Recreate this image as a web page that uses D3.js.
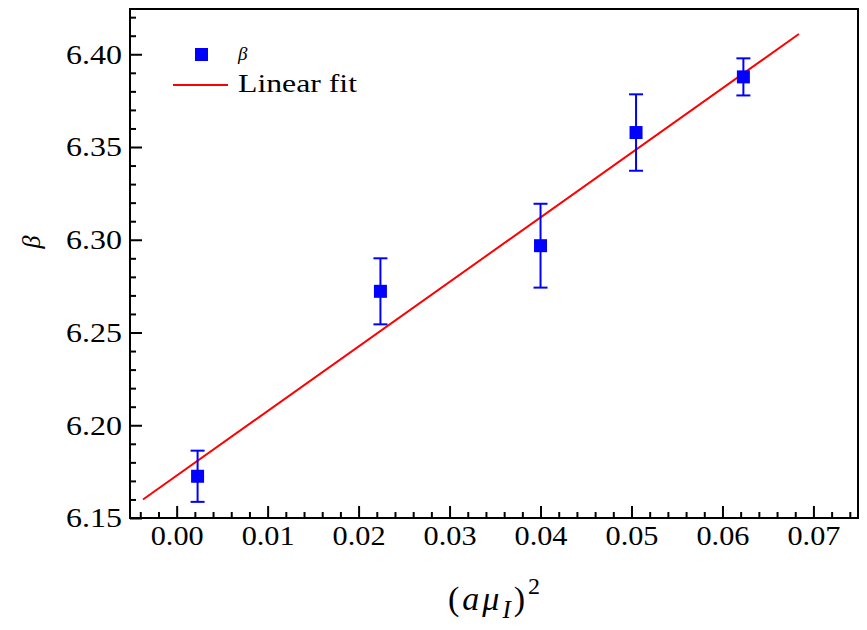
<!DOCTYPE html>
<html>
<head>
<meta charset="utf-8">
<script src="https://cdn.jsdelivr.net/npm/d3@7"></script>
<style>
  html, body { margin: 0; padding: 0; background: #fff; }
  svg { display: block; }
  text { fill: #000; }
</style>
</head>
<body>
<div id="chart"></div>
<script>
// ---- data ----
const pointX   = [0.0023, 0.0224, 0.0400, 0.0505, 0.0623];
const pointY   = [6.1725, 6.2722, 6.2968, 6.3578, 6.3878];
const pointErr = [0.0138, 0.0178, 0.0226, 0.0206, 0.0100];
const fitX = [-0.0037, 0.0684];
const fitY = [6.1600, 6.4109];
const xTicks = [0.00, 0.01, 0.02, 0.03, 0.04, 0.05, 0.06, 0.07];
const yTicks = [6.15, 6.20, 6.25, 6.30, 6.35, 6.40];
const legendLabels = ["β", "Linear fit"];

const W = 867, H = 630;
const L = 130, R = 858, T = 9, B = 518;
const SERIF = "Liberation Serif";

const svg = d3.select("#chart").append("svg").attr("width", W).attr("height", H)
  .style("font-family", SERIF);

const x = d3.scaleLinear().domain([-0.00513, 0.0749]).range([L, R]);
const y = d3.scaleLinear().domain([6.15, 6.4244]).range([B, T]);

// minor ticks
const xMinor = d3.range(-0.004, 0.0749, 0.002).filter(v => Math.abs(Math.round(v * 100) - v * 100) > 1e-6);
const yMinor = d3.range(6.15, 6.425, 0.01).filter(v => Math.abs(Math.round(v * 20) - v * 20) > 1e-6);

const gx = svg.append("g").attr("transform", `translate(0,${B})`);
gx.call(d3.axisBottom(x).tickValues(xMinor).tickSizeInner(-6).tickSizeOuter(0).tickFormat(""));
const gx2 = svg.append("g").attr("transform", `translate(0,${B})`);
gx2.call(d3.axisBottom(x).tickValues(xTicks).tickSizeInner(-12).tickSizeOuter(0).tickFormat(d3.format(".2f")));

const gy = svg.append("g").attr("transform", `translate(${L},0)`);
gy.call(d3.axisLeft(y).tickValues(yMinor).tickSizeInner(-6).tickSizeOuter(0).tickFormat(""));
const gy2 = svg.append("g").attr("transform", `translate(${L},0)`);
gy2.call(d3.axisLeft(y).tickValues(yTicks).tickSizeInner(-12).tickSizeOuter(0).tickFormat(d3.format(".2f")));

[gx, gx2, gy, gy2].forEach(g => {
  g.attr("font-family", null).attr("font-size", null);
  g.select(".domain").remove();
  g.selectAll(".tick line").attr("stroke", "#000").attr("stroke-width", 2);
});

gx2.selectAll(".tick text")
  .style("font-family", SERIF)
  .attr("font-size", 27).attr("y", 8).attr("dy", "0.71em");
gy2.selectAll(".tick text")
  .style("font-family", SERIF)
  .attr("font-size", 27).attr("x", -8).attr("dy", "0.33em");

// stretch labels horizontally to match the reference's wide digits
gx2.selectAll(".tick text").each(function() {
  const w = this.getComputedTextLength();
  d3.select(this).attr("transform", `scale(${53 / w},1)`);
});
gy2.selectAll(".tick text").each(function() {
  const w = this.getComputedTextLength();
  const s = 56 / w;
  d3.select(this).attr("x", -8 / s).attr("transform", `scale(${s},1)`);
});

// frame
svg.append("rect").attr("x", L).attr("y", T).attr("width", R - L).attr("height", B - T)
  .attr("fill", "none").attr("stroke", "#000").attr("stroke-width", 2);

// fit line
const line = d3.line().x(d => x(d[0])).y(d => y(d[1]));
svg.append("path").datum(d3.zip(fitX, fitY)).attr("d", line)
  .attr("fill", "none").attr("stroke", "#ff0000").attr("stroke-width", 2);

// error bars
const pts = pointX.map((v, i) => ({ x: v, y: pointY[i], e: pointErr[i] }));
const eb = svg.append("g").attr("stroke", "#0000ff").attr("stroke-width", 2);
pts.forEach(p => {
  eb.append("line").attr("x1", x(p.x)).attr("x2", x(p.x)).attr("y1", y(p.y - p.e)).attr("y2", y(p.y + p.e));
  eb.append("line").attr("x1", x(p.x) - 7).attr("x2", x(p.x) + 7).attr("y1", y(p.y - p.e)).attr("y2", y(p.y - p.e));
  eb.append("line").attr("x1", x(p.x) - 7).attr("x2", x(p.x) + 7).attr("y1", y(p.y + p.e)).attr("y2", y(p.y + p.e));
});
svg.append("g").selectAll("rect").data(pts).join("rect")
  .attr("x", d => x(d.x) - 6.5).attr("y", d => y(d.y) - 6.5)
  .attr("width", 13).attr("height", 13).attr("fill", "#0000ff");

// legend
svg.append("rect").attr("x", 195).attr("y", 48).attr("width", 13).attr("height", 13).attr("fill", "#0000ff");
svg.append("text").attr("x", 238).attr("y", 60).attr("font-size", 19).attr("font-style", "italic").text(legendLabels[0]);
svg.append("line").attr("x1", 173).attr("x2", 228).attr("y1", 85).attr("y2", 85).attr("stroke", "#ff0000").attr("stroke-width", 2);
svg.append("text").attr("x", 238).attr("y", 92).attr("font-size", 26)
  .attr("textLength", 119).attr("lengthAdjust", "spacingAndGlyphs").text(legendLabels[1]);

// axis titles
const xt = svg.append("text").attr("x", 448).attr("y", 610).attr("font-size", 34)
  .attr("letter-spacing", 3);
xt.append("tspan").text("(");
xt.append("tspan").attr("font-style", "italic").text("aμ");
xt.append("tspan").attr("font-style", "italic").attr("font-size", 25).attr("dy", 8).text("I");
xt.append("tspan").attr("dy", -8).text(")");
xt.append("tspan").attr("font-size", 24).attr("dy", -16).text("2");

svg.append("text").attr("transform", "translate(40,242) rotate(-90)")
  .attr("text-anchor", "middle").attr("font-size", 26).attr("font-style", "italic").text("β");
</script>
</body>
</html>
